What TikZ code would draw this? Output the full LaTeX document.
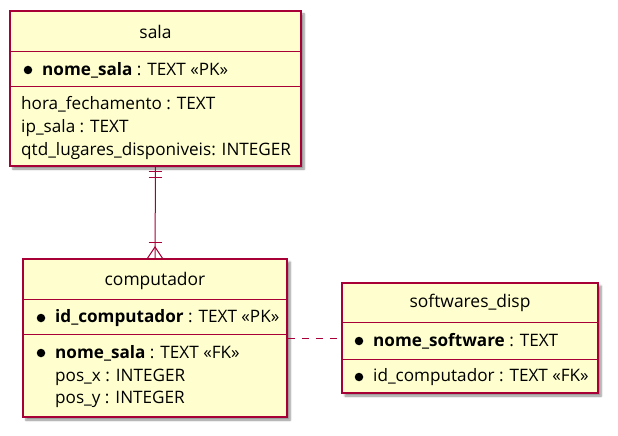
\documentclass[tikz,border=0pt]{standalone}
\usepackage{fontspec}
\setmainfont{Open Sans}
\usetikzlibrary{shadows.blur}
\definecolor{efill}{HTML}{FEFECE}
\definecolor{eline}{HTML}{A80036}
\begin{document}
\begin{tikzpicture}[x=1bp,y=-1bp,
  entity/.style={draw=eline,fill=efill,line width=1.5bp,inner sep=0,
    blur shadow={shadow xshift=3bp,shadow yshift=-3bp,shadow blur steps=6,shadow opacity=45}},
  sep/.style={draw=eline,line width=1bp},
  title/.style={inner sep=0,font=\fontsize{17.5}{20}\selectfont},
  attr/.style={inner sep=0,anchor=west,font=\fontsize{17.2}{19}\selectfont},
  bul/.style={circle,fill=black,inner sep=0,minimum size=8.5bp},
  conn/.style={draw=eline,line width=1bp}]
\useasboundingbox (0,0) rectangle (618,436);
% entities
\node[entity,minimum width=291bp,minimum height=155bp] (sala) at (155.5,88.5) {};
\node[entity,minimum width=264bp,minimum height=158bp] (comp) at (155,338) {};
\node[entity,minimum width=256bp,minimum height=110bp] (soft) at (470,338) {};
% sala
\draw[sep] (10,52) -- (301,52);
\draw[sep] (10,87) -- (301,87);
\node[title] (salat) at (155.5,32) {sala};
\node[bul] (salab) at (28,70) {};
\node[attr] (sala1) at (42,70) {\textbf{nome\_sala} : TEXT «PK»};
\node[attr] (sala2) at (21,104) {hora\_fechamento : TEXT};
\node[attr] (sala3) at (21,128) {ip\_sala : TEXT};
\node[attr] (sala4) at (21,151) {qtd\_lugares\_disponiveis: INTEGER};
% computador
\draw[sep] (23,299) -- (287,299);
\draw[sep] (23,334) -- (287,334);
\node[title] (compt) at (155,281) {computador};
\node[bul] (compb1) at (41,318) {};
\node[attr] (comp1) at (55,318) {\textbf{id\_computador} : TEXT «PK»};
\node[bul] (compb2) at (41,353) {};
\node[attr] (comp2) at (55,353) {\textbf{nome\_sala} : TEXT «FK»};
\node[attr] (comp3) at (55,377) {pos\_x : INTEGER};
\node[attr] (comp4) at (55,399) {pos\_y : INTEGER};
% softwares_disp
\draw[sep] (342,322) -- (598,322);
\draw[sep] (342,359) -- (598,359);
\node[title] (softt) at (470,303) {softwares\_disp};
\node[bul] (softb1) at (359,341) {};
\node[attr] (soft1) at (373,341) {\textbf{nome\_software} : TEXT};
\node[bul] (softb2) at (359,377) {};
\node[attr] (soft2) at (373,377) {id\_computador : TEXT «FK»};
% connectors
\draw[conn] (sala.south) -- (comp.north);
\draw[conn] (148.5,172) -- (161.5,172);
\draw[conn] (148.5,178) -- (161.5,178);
\draw[conn] (148.5,243) -- (161.5,243);
\coordinate (cf) at (155,247);
\draw[conn] (147,259) -- (cf) -- (163,259);
\draw[conn,dash pattern=on 7bp off 7bp] (comp.east |- soft.west) -- (soft.west);
\end{tikzpicture}
\end{document}
